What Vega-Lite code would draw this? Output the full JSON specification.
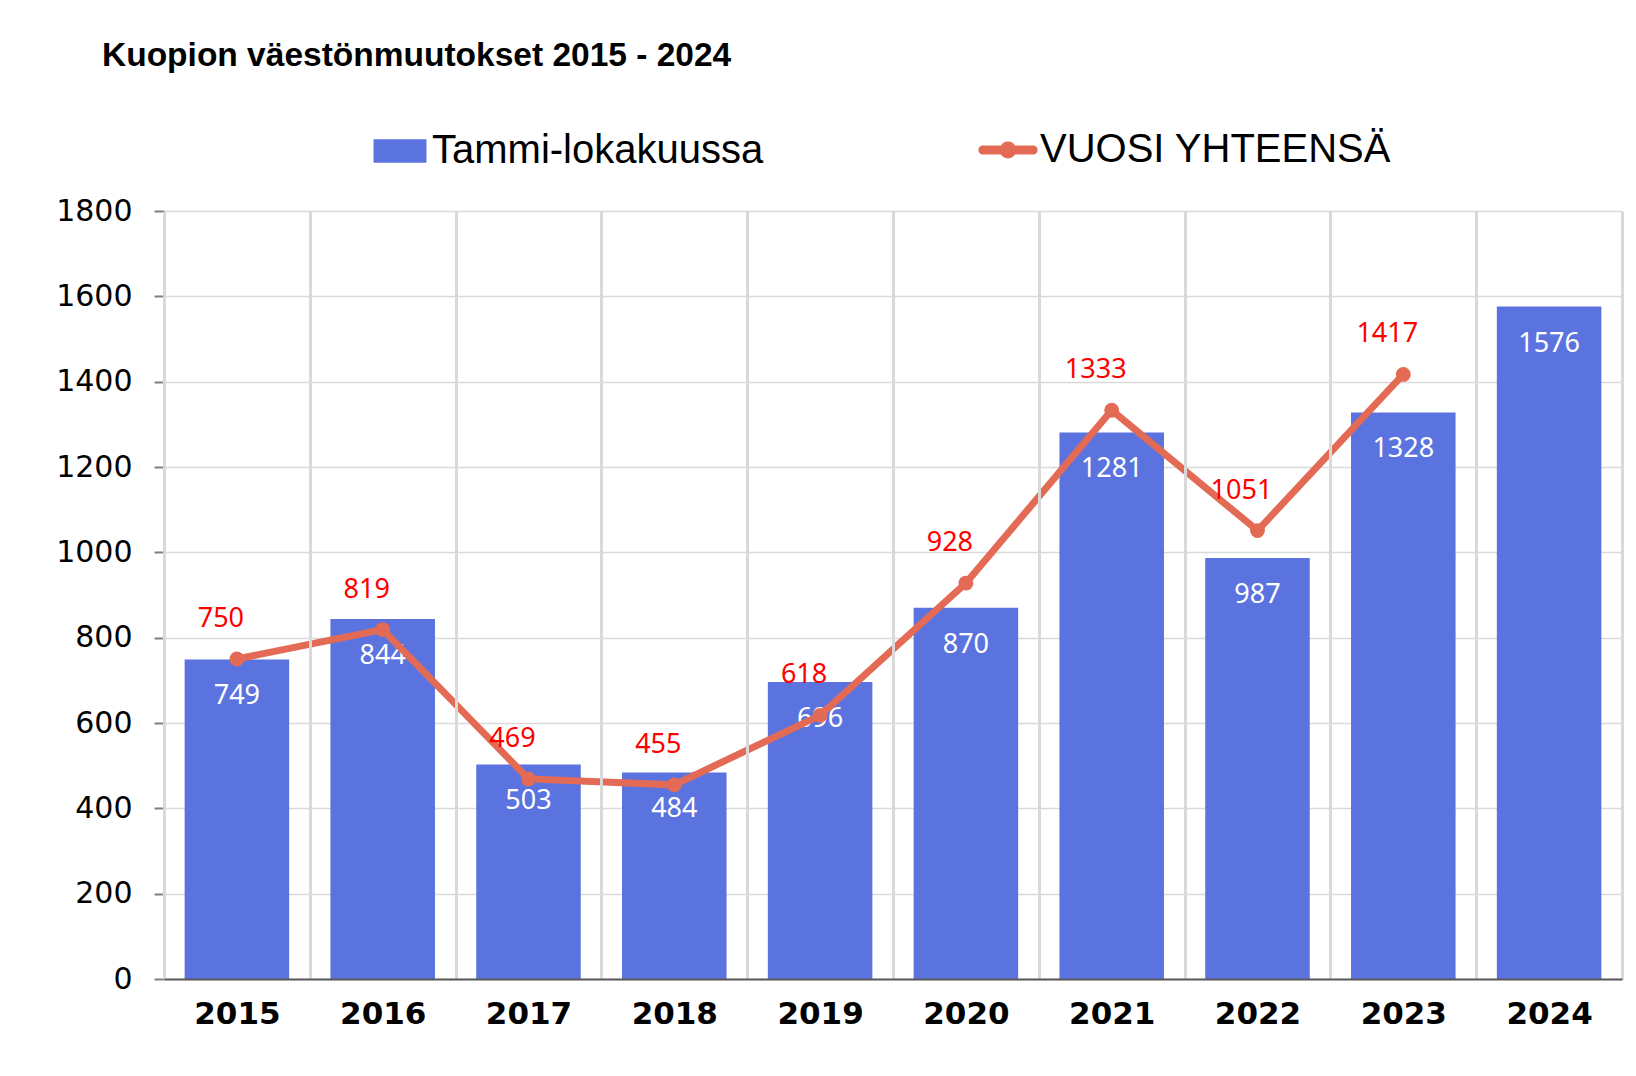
{
  "$schema": "https://vega.github.io/schema/vega-lite/v6.json",
  "autosize": {"type": "none"},
  "width": 1458,
  "height": 768,
  "padding": {"left": 164, "top": 211, "right": 14, "bottom": 97},
  "background": "white",
  "title": {
    "text": "Kuopion väestönmuutokset 2015 - 2024",
    "anchor": "start",
    "frame": "group",
    "dx": -62,
    "offset": 31,
    "baseline": "alphabetic",
    "font": "Liberation Sans",
    "fontSize": 33.5,
    "fontWeight": "bold",
    "color": "#000000"
  },
  "data": {
    "values": [
      {"year": "2015", "tammi": 749, "vuosi": 750},
      {"year": "2016", "tammi": 844, "vuosi": 819},
      {"year": "2017", "tammi": 503, "vuosi": 469},
      {"year": "2018", "tammi": 484, "vuosi": 455},
      {"year": "2019", "tammi": 696, "vuosi": 618},
      {"year": "2020", "tammi": 870, "vuosi": 928},
      {"year": "2021", "tammi": 1281, "vuosi": 1333},
      {"year": "2022", "tammi": 987, "vuosi": 1051},
      {"year": "2023", "tammi": 1328, "vuosi": 1417},
      {"year": "2024", "tammi": 1576, "vuosi": null}
    ]
  },
  "encoding": {
    "x": {
      "field": "year",
      "type": "nominal",
      "scale": {"paddingInner": 0, "paddingOuter": 0},
      "axis": {
        "title": null,
        "labelAngle": 0,
        "labelFont": "DejaVu Sans",
        "labelFontSize": 31,
        "labelFontWeight": "bold",
        "labelColor": "#000000",
        "labelPadding": 20,
        "ticks": false,
        "grid": true,
        "tickBand": "extent",
        "gridColor": "#d9d9d9",
        "gridWidth": 3,
        "domainColor": "#595959",
        "domainWidth": 2,
        "zindex": 1
      }
    }
  },
  "layer": [
    {
      "mark": {"type": "bar", "width": {"band": 0.717}},
      "encoding": {
        "y": {
          "field": "tammi",
          "type": "quantitative",
          "scale": {"domain": [0, 1800], "nice": false},
          "axis": {
            "title": null,
            "format": "d",
            "values": [0, 200, 400, 600, 800, 1000, 1200, 1400, 1600, 1800],
            "labelFont": "DejaVu Sans",
            "labelFontSize": 30,
            "labelColor": "#000000",
            "labelPadding": 22,
            "tickSize": 10,
            "tickWidth": 2,
            "tickColor": "#7f7f7f",
            "domainColor": "#000000",
            "domainWidth": 1,
            "gridColor": "#d9d9d9",
            "gridWidth": 1.5,
            "zindex": 0
          }
        },
        "color": {
          "datum": "Tammi-lokakuussa",
          "type": "nominal",
          "scale": {
            "domain": ["Tammi-lokakuussa", "VUOSI YHTEENSÄ"],
            "range": ["#5b73df", "#e36b55"]
          },
          "legend": {
            "title": null,
            "orient": "none",
            "direction": "horizontal",
            "legendX": 216,
            "legendY": -81,
            "padding": 0,
            "labelFont": "Liberation Sans",
            "labelFontSize": 40,
            "labelColor": "#000000",
            "labelOffset": 12,
            "labelLimit": 600,
            "columnPadding": 200,
            "symbolSize": 2800,
            "encode": {
              "symbols": {
                "update": {
                  "shape": {"signal": "datum.value === 'VUOSI YHTEENSÄ' ? 'M-0.95,0H0.95M-0.15,0A0.15,0.15,0,1,1,0.15,0A0.15,0.15,0,1,1,-0.15,0Z' : 'M-1,-0.44H1V0.44H-1Z'"},
                  "fill": {"signal": "datum.value === 'VUOSI YHTEENSÄ' ? '#e36b55' : '#5b73df'"},
                  "stroke": {"signal": "datum.value === 'VUOSI YHTEENSÄ' ? '#e36b55' : '#5b73df'"},
                  "strokeWidth": {"signal": "datum.value === 'VUOSI YHTEENSÄ' ? 9 : 0"},
                  "strokeCap": {"value": "round"},
                  "opacity": {"value": 1},
                  "fillOpacity": {"value": 1}
                }
              }
            }
          }
        }
      }
    },
    {
      "mark": {"type": "text", "baseline": "middle", "align": "center", "dy": 37, "font": "Noto Sans", "fontSize": 27, "color": "#ffffff"},
      "encoding": {
        "y": {"field": "tammi", "type": "quantitative"},
        "text": {"field": "tammi", "type": "quantitative"}
      }
    },
    {
      "transform": [{"filter": "datum.vuosi != null"}],
      "mark": {"type": "line", "strokeWidth": 7, "point": {"filled": true, "size": 220}},
      "encoding": {
        "y": {"field": "vuosi", "type": "quantitative"},
        "color": {"datum": "VUOSI YHTEENSÄ", "type": "nominal"}
      }
    },
    {
      "transform": [{"filter": "datum.vuosi != null"}],
      "mark": {"type": "text", "baseline": "middle", "align": "center", "dy": -40, "dx": -16, "font": "Noto Sans", "fontSize": 27, "color": "#ff0000"},
      "encoding": {
        "y": {"field": "vuosi", "type": "quantitative"},
        "text": {"field": "vuosi", "type": "quantitative"}
      }
    }
  ],
  "config": {
    "view": {"stroke": null}
  }
}
